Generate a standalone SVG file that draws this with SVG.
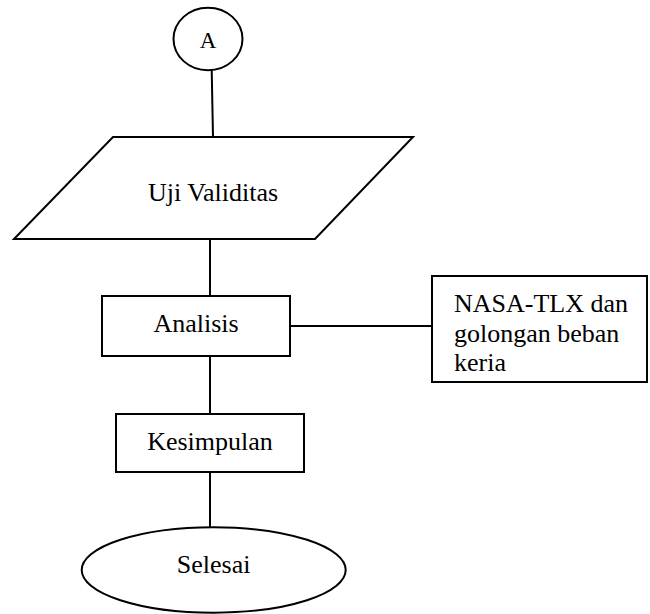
<svg xmlns="http://www.w3.org/2000/svg" width="650" height="614" viewBox="0 0 650 614">
<style>
.s{fill:#fff;stroke:#000;stroke-width:2}
.c{stroke:#000;stroke-width:2;fill:none}
.t{font-family:"Liberation Serif","Times New Roman",serif;font-size:26px;fill:#000}
.m{text-anchor:middle}
</style>
<rect width="650" height="614" fill="#fff"/>
<g id="connectors">
<line class="c" x1="211.7" y1="70" x2="213" y2="137"/>
<line class="c" x1="210" y1="239" x2="210" y2="296"/>
<line class="c" x1="290" y1="326" x2="432" y2="326"/>
<line class="c" x1="210" y1="356" x2="210" y2="414"/>
<line class="c" x1="210" y1="472" x2="210" y2="527"/>
</g>
<g id="nodeA">
<ellipse class="s" cx="208" cy="39" rx="34.5" ry="31.3"/>
<text class="t m" x="208" y="48" style="font-size:23px">A</text>
</g>
<g id="uji">
<polygon class="s" points="113,137 413,137 315,239 14,239"/>
<text class="t m" x="213" y="201">Uji Validitas</text>
</g>
<g id="analisis">
<rect class="s" x="102" y="296" width="188" height="60"/>
<text class="t m" x="196" y="332">Analisis</text>
</g>
<g id="nasa">
<rect class="s" x="432" y="276" width="215" height="106"/>
<text class="t" x="454" y="312">NASA-TLX dan</text>
<text class="t" x="454" y="342">golongan beban</text>
<text class="t" x="454" y="371">keria</text>
</g>
<g id="kesimpulan">
<rect class="s" x="116" y="414" width="188" height="58"/>
<text class="t m" x="210" y="450">Kesimpulan</text>
</g>
<g id="selesai">
<ellipse class="s" cx="213.7" cy="570" rx="132" ry="42.7"/>
<text class="t m" x="213.7" y="573">Selesai</text>
</g>
</svg>
